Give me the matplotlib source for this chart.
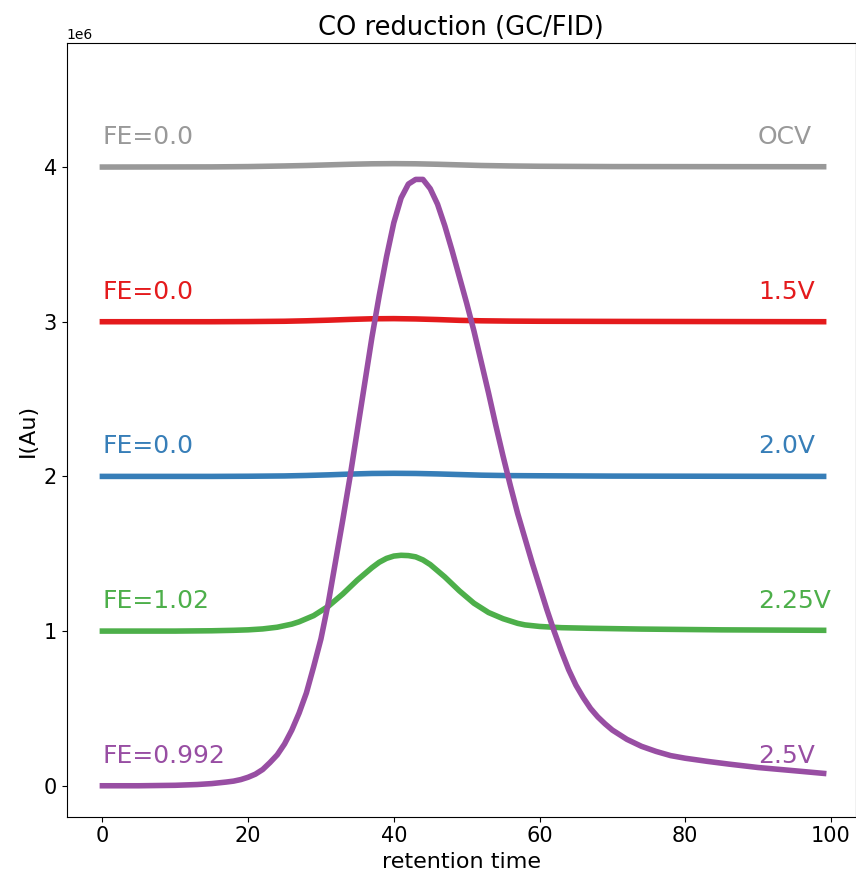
import matplotlib
matplotlib.use("Agg")
import matplotlib.pyplot as plt

# retention time samples and intensities (units of 1e6)
x_purple = [0, 5, 10, 13, 15, 17, 18, 19, 20, 21, 22, 23, 24, 25, 26, 27, 28, 29, 30,
            31, 32, 33, 34, 35, 36, 37, 38, 39, 40, 41, 42, 43, 44, 45, 46, 47, 48, 49,
            50, 51, 52, 53, 54, 55, 56, 57, 58, 59, 60, 61, 62, 63, 64, 65, 66, 67, 68,
            69, 70, 72, 74, 76, 78, 80, 83, 86, 90, 95, 99]
y_purple = [0.0, 0.0, 0.003, 0.008, 0.014, 0.024, 0.03, 0.04, 0.055, 0.075, 0.105, 0.15,
            0.20, 0.27, 0.36, 0.47, 0.60, 0.77, 0.95, 1.18, 1.45, 1.72, 2.0, 2.30, 2.60,
            2.90, 3.17, 3.42, 3.64, 3.80, 3.89, 3.92, 3.92, 3.86, 3.76, 3.62, 3.46, 3.29,
            3.12, 2.94, 2.74, 2.54, 2.33, 2.13, 1.94, 1.76, 1.60, 1.44, 1.29, 1.14, 1.00,
            0.87, 0.75, 0.65, 0.57, 0.50, 0.445, 0.40, 0.36, 0.30, 0.255, 0.222, 0.195,
            0.178, 0.158, 0.14, 0.118, 0.097, 0.08]

x_green = [0, 10, 15, 18, 20, 22, 24, 26, 27, 28, 29, 30, 31, 32, 33, 34, 35, 36, 37,
           38, 39, 40, 41, 42, 43, 44, 45, 46, 47, 48, 49, 50, 51, 52, 53, 54, 55, 56,
           57, 58, 60, 63, 67, 74, 85, 99]
y_green = [1.0, 1.0, 1.002, 1.005, 1.008, 1.014, 1.025, 1.045, 1.06, 1.08, 1.10, 1.13,
           1.16, 1.20, 1.24, 1.285, 1.33, 1.37, 1.41, 1.445, 1.47, 1.485, 1.49, 1.488,
           1.48, 1.46, 1.43, 1.39, 1.35, 1.305, 1.26, 1.22, 1.18, 1.15, 1.12, 1.10, 1.08,
           1.065, 1.05, 1.04, 1.03, 1.022, 1.018, 1.013, 1.008, 1.005]

x_small = [0, 15, 20, 25, 28, 31, 34, 37, 40, 43, 46, 49, 52, 56, 60, 70, 99]
y_blue = [2.0, 2.0, 2.001, 2.003, 2.006, 2.01, 2.015, 2.019, 2.02, 2.019, 2.016, 2.012,
          2.008, 2.005, 2.004, 2.002, 2.0]
y_red = [3.0, 3.0, 3.001, 3.003, 3.006, 3.01, 3.015, 3.019, 3.02, 3.018, 3.014, 3.009,
         3.006, 3.004, 3.003, 3.002, 3.0]
y_gray = [4.0, 4.001, 4.003, 4.007, 4.01, 4.014, 4.018, 4.021, 4.022, 4.021, 4.018,
          4.014, 4.01, 4.007, 4.005, 4.003, 4.002]

fe_labels = ["FE=0.0", "FE=0.0", "FE=0.0", "FE=1.02", "FE=0.992"]
volt_labels = ["OCV", "1.5V", "2.0V", "2.25V", "2.5V"]
baselines = [4, 3, 2, 1, 0]
colors = ["#999999", "#e41a1c", "#377eb8", "#4daf4a", "#984ea3"]

series = [(x_small, y_gray), (x_small, y_red), (x_small, y_blue),
          (x_green, y_green), (x_purple, y_purple)]

fig = plt.figure(figsize=(8.56, 8.8), dpi=100)
ax = fig.add_axes([66.7 / 856, 63.3 / 880, 789 / 856, 773.4 / 880])

for (xs, ys), c, fe, v, b in zip(series, colors, fe_labels, volt_labels, baselines):
    ax.plot(xs, [y * 1e6 for y in ys], color=c, lw=4)
    ax.text(0, (b + 0.15) * 1e6, fe, color=c, fontsize=18)
    ax.text(90, (b + 0.15) * 1e6, v, color=c, fontsize=18)

ax.set_xlim(-4.9, 103.4)
ax.set_ylim(-0.2e6, 4.8e6)
ax.set_xticks([0, 20, 40, 60, 80, 100])
ax.set_yticks([0, 1e6, 2e6, 3e6, 4e6])
ax.tick_params(labelsize=15)
ax.set_title("CO reduction (GC/FID)", fontsize=18.5)
ax.set_xlabel("retention time", fontsize=16)
ax.set_ylabel("I(Au)", fontsize=16)

fig.savefig("out.png", dpi=100)
